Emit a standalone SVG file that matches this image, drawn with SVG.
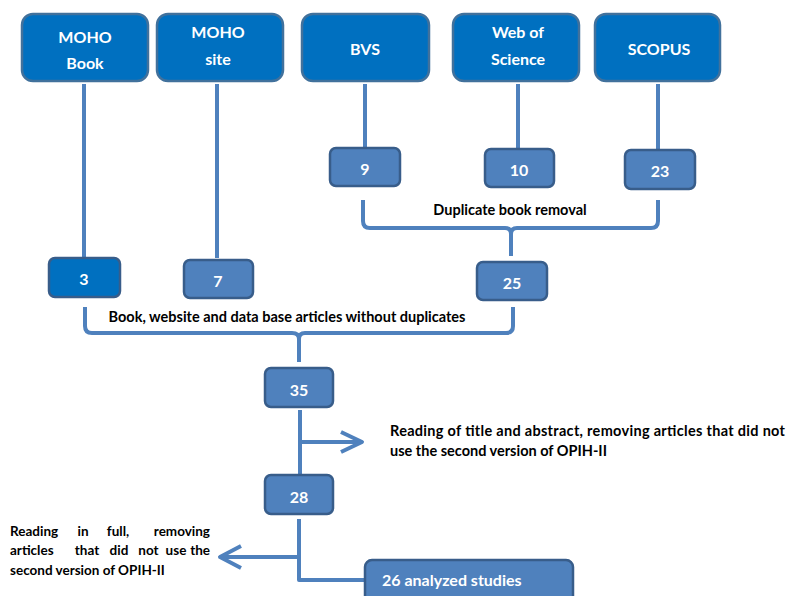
<svg xmlns="http://www.w3.org/2000/svg" width="787" height="596" viewBox="0 0 787 596">
<style>
  .src { fill: #0070C0; stroke: #41719C; stroke-width: 2.5; }
  .num { fill: #4F81BD; stroke: #385D8A; stroke-width: 2.5; }
  .dark { fill: #0070C0; stroke: #385D8A; stroke-width: 2.5; }
  .wt { font-family: Lato, "Liberation Sans", sans-serif; font-weight: bold; fill: #FFFFFF; font-size: 16px; }
  .mid { text-anchor: middle; }
  .lbl { font-family: Lato, "Liberation Sans", sans-serif; font-weight: bold; fill: #000000; font-size: 14.5px; }
  .sm { font-size: 13.5px; }
  .end { text-anchor: end; }
  .ln { fill: none; stroke: #4F81BD; stroke-width: 4; stroke-linejoin: round; }
</style>
<rect width="787" height="596" fill="#FFFFFF"/>

<g id="connectors">
  <line class="ln" x1="84" y1="84" x2="84" y2="258"/>
  <line class="ln" x1="217" y1="84" x2="217" y2="258"/>
  <line class="ln" x1="365" y1="84" x2="365" y2="148"/>
  <line class="ln" x1="518" y1="84" x2="518" y2="148"/>
  <line class="ln" x1="658" y1="84" x2="658" y2="150"/>
  <path class="ln" d="M363,200 V221 Q363,228 370,228 H505 Q511,228 511,234 V256 M511,234 Q511,228 517,228 H651 Q658,228 658,221 V200"/>
  <path class="ln" d="M85,307 V326 Q85,333 92,333 H292 Q299,333 299,339 V362 M299,339 Q299,333 305,333 H506 Q513,333 513,326 V307"/>
  <line class="ln" x1="300" y1="410" x2="300" y2="475"/>
  <line class="ln" x1="300" y1="442" x2="362" y2="442"/>
  <polyline class="ln" points="341,432 362,442 341,452"/>
  <path class="ln" d="M299,519 V580 H366"/>
  <line class="ln" x1="299" y1="557" x2="220" y2="557"/>
  <polyline class="ln" points="241,546 220,557 241,568"/>
</g>

<g id="moho-book">
  <rect class="src" x="22" y="14" width="126" height="67" rx="11"/>
  <text class="wt mid" x="85" y="43">MOHO</text>
  <text class="wt mid" x="85" y="69">Book</text>
</g>
<g id="moho-site">
  <rect class="src" x="157" y="14" width="126" height="67" rx="11"/>
  <text class="wt mid" x="218" y="38">MOHO</text>
  <text class="wt mid" x="218" y="65">site</text>
</g>
<g id="bvs">
  <rect class="src" x="302" y="14" width="127" height="67" rx="11"/>
  <text class="wt mid" x="365" y="55">BVS</text>
</g>
<g id="wos">
  <rect class="src" x="453" y="14" width="126" height="67" rx="11"/>
  <text class="wt mid" x="518" y="38">Web of</text>
  <text class="wt mid" x="518" y="65">Science</text>
</g>
<g id="scopus">
  <rect class="src" x="595" y="14" width="125" height="67" rx="11"/>
  <text class="wt mid" x="659" y="55">SCOPUS</text>
</g>

<g id="n9">
  <rect class="num" x="330" y="148" width="70" height="38" rx="6"/>
  <text class="wt mid" x="365" y="175">9</text>
</g>
<g id="n10">
  <rect class="num" x="485" y="149" width="69" height="38" rx="6"/>
  <text class="wt mid" x="519" y="176">10</text>
</g>
<g id="n23">
  <rect class="num" x="625" y="150" width="70" height="39" rx="6"/>
  <text class="wt mid" x="660" y="177">23</text>
</g>
<text class="lbl mid" x="510" y="215">Duplicate book removal</text>

<g id="n3">
  <rect class="dark" x="49" y="258" width="71" height="39" rx="6"/>
  <text class="wt mid" x="84" y="285">3</text>
</g>
<g id="n7">
  <rect class="num" x="184" y="260" width="69" height="38" rx="6"/>
  <text class="wt mid" x="218" y="287">7</text>
</g>
<g id="n25">
  <rect class="num" x="477" y="262" width="70" height="38" rx="6"/>
  <text class="wt mid" x="512" y="289">25</text>
</g>
<text class="lbl mid" x="287" y="322">Book, website and data base articles without duplicates</text>

<g id="n35">
  <rect class="num" x="265" y="368" width="68" height="39" rx="6"/>
  <text class="wt mid" x="299" y="396">35</text>
</g>
<text class="lbl" x="390" y="436" textLength="395" lengthAdjust="spacing">Reading of title and abstract, removing articles that did not</text>
<text class="lbl" x="390" y="456">use the second version of OPIH-II</text>

<g id="n28">
  <rect class="num" x="265" y="475" width="68" height="39" rx="6"/>
  <text class="wt mid" x="299" y="503">28</text>
</g>

<text class="lbl sm" y="536"><tspan x="10">Reading</tspan><tspan x="83" class="mid">in</tspan><tspan x="118" class="mid">full,</tspan><tspan x="210" class="end">removing</tspan></text>
<text class="lbl sm" y="555"><tspan x="10">articles</tspan><tspan x="87" class="mid">that</tspan><tspan x="119" class="mid">did</tspan><tspan x="148.5" class="mid">not</tspan><tspan x="176" class="mid">use</tspan><tspan x="210" class="end">the</tspan></text>
<text class="lbl sm" x="10" y="575">second version of OPIH-II</text>

<g id="final">
  <rect class="num" x="365" y="560" width="208" height="45" rx="7"/>
  <text class="wt" x="382" y="586">26 analyzed studies</text>
</g>
</svg>
